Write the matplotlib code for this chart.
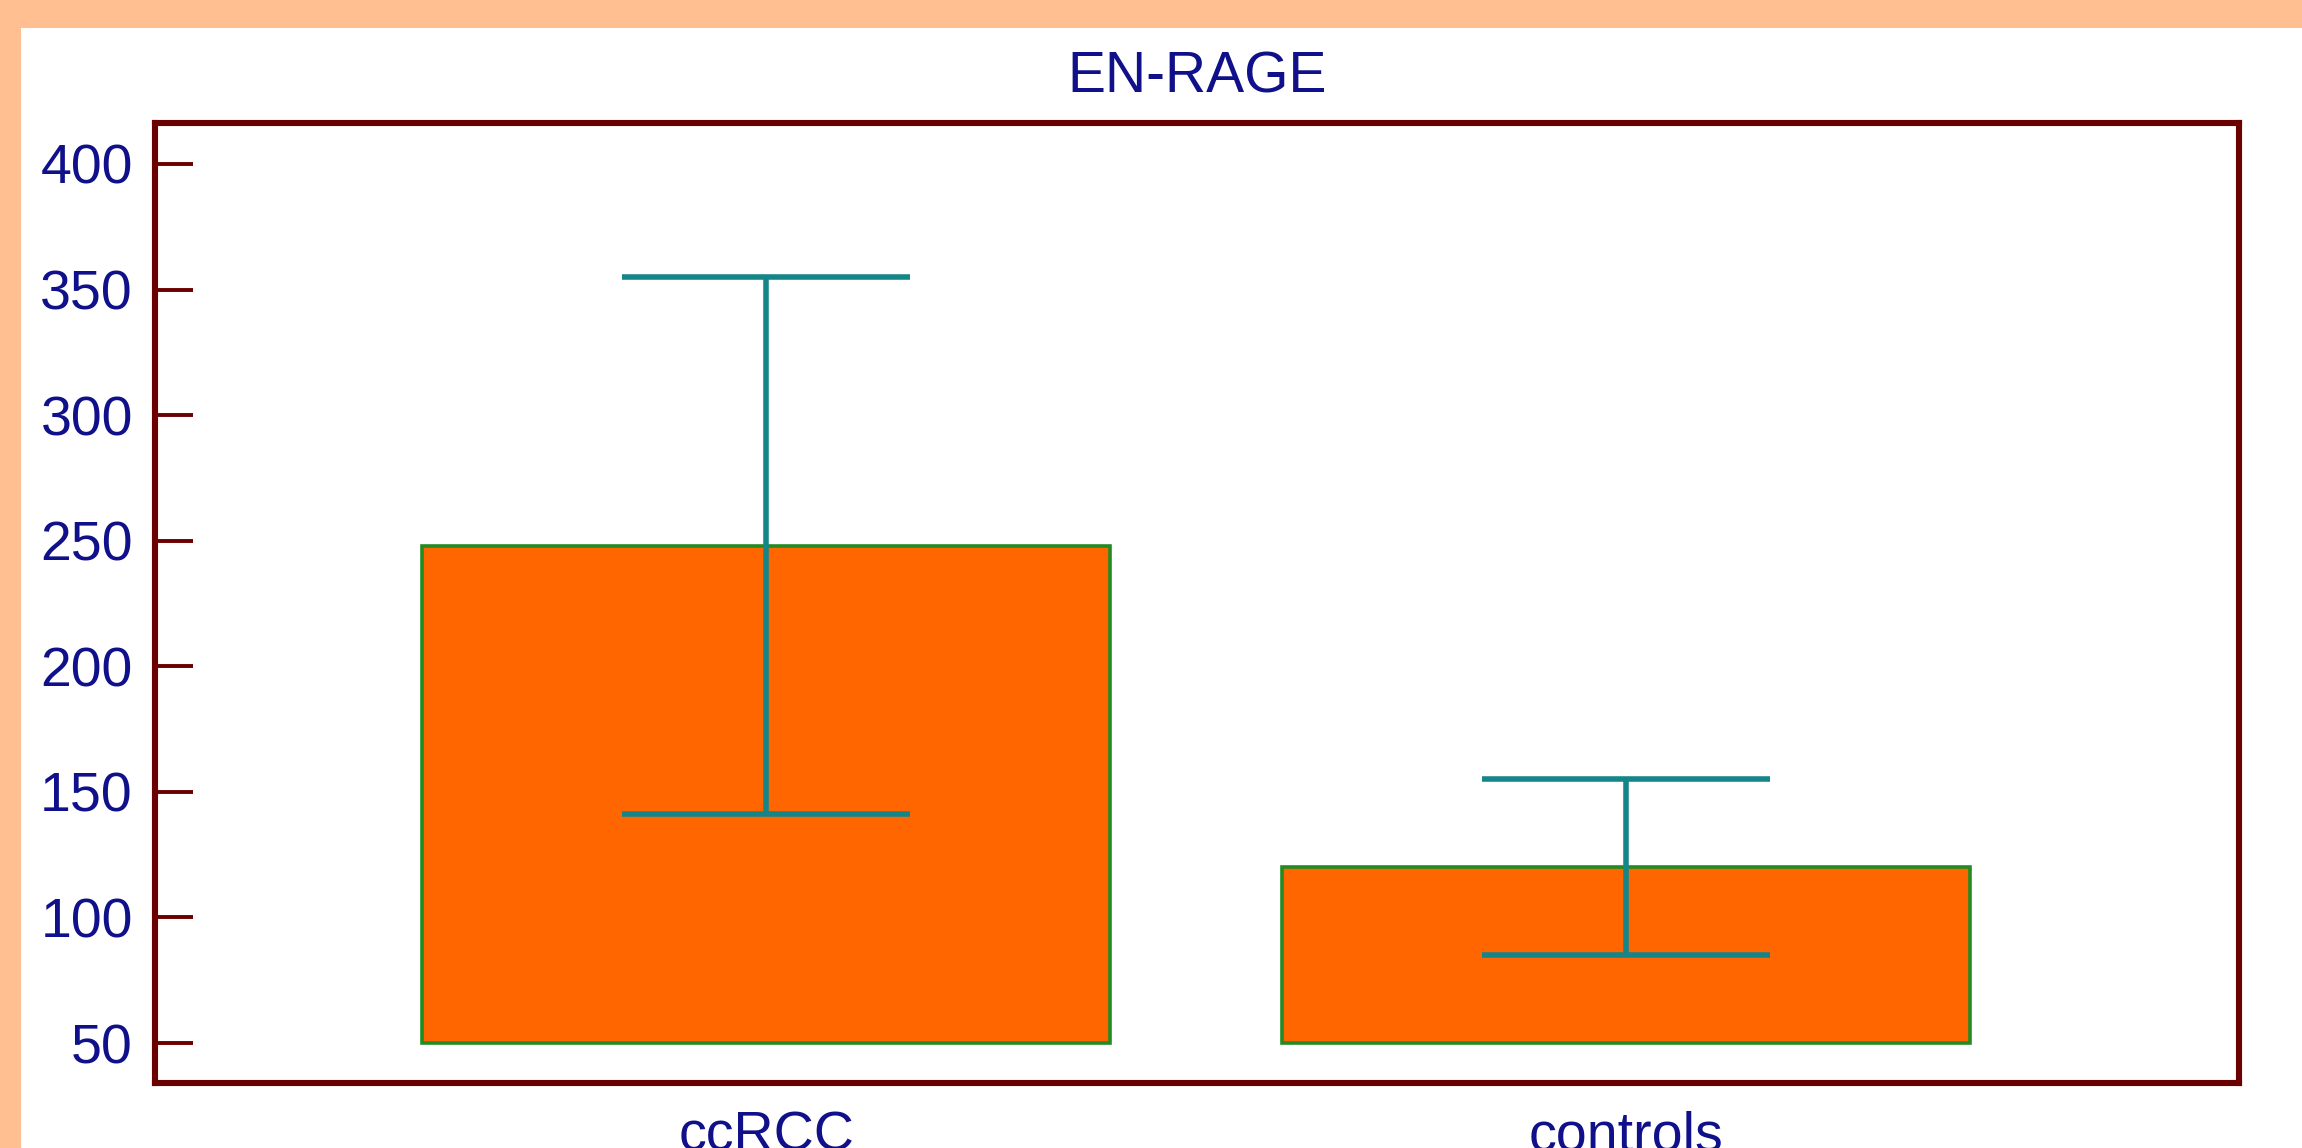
#!/usr/bin/env python3
# -*- coding: utf-8 -*-

"""
Bar chart of EN-RAGE levels with error bars (ccRCC vs controls).
"""

import matplotlib
matplotlib.use("Agg")
import matplotlib.pyplot as plt
from matplotlib.patches import Rectangle

# Data
groups = ["ccRCC", "controls"]
means = [248, 120]
errors = [107, 35]
baseline = 50
y_ticks = [50, 100, 150, 200, 250, 300, 350, 400]

# Colours
peach = "#FFBF91"
navy = "#10108A"
frame_red = "#6B0000"
bar_orange = "#FF6600"
bar_edge = "#228B22"
err_teal = "#14868A"

plt.rcParams["font.family"] = ["Liberation Sans", "DejaVu Sans"]

fig = plt.figure(figsize=(23.02, 11.48), dpi=100, facecolor="white")

# Peach border along the top and left edges
fig.patches.append(Rectangle((0, 1 - 28 / 1148), 1, 28 / 1148, transform=fig.transFigure,
                             facecolor=peach, edgecolor="none", zorder=0))
fig.patches.append(Rectangle((0, 0), 21 / 2302, 1, transform=fig.transFigure,
                             facecolor=peach, edgecolor="none", zorder=0))

ax = fig.add_axes([155 / 2302, 1 - 1083 / 1148, (2239 - 155) / 2302, (1083 - 123) / 1148])

x = range(len(groups))
heights = [m - baseline for m in means]
ax.bar(x, heights, bottom=baseline, width=0.8, color=bar_orange,
       edgecolor=bar_edge, linewidth=2.6, zorder=2)
ax.errorbar(x, means, yerr=errors, fmt="none", ecolor=err_teal,
            elinewidth=4.0, capsize=104, capthick=4.0, zorder=3)

ax.set_xlim(-0.711, 1.713)
ax.set_ylim(34.1, 416.3)
ax.set_yticks(y_ticks)
ax.set_xticks(list(x))
ax.set_xticklabels(groups)

for spine in ax.spines.values():
    spine.set_color(frame_red)
    spine.set_linewidth(4.4)

ax.tick_params(axis="y", direction="in", length=27, width=2.8, color=frame_red,
               labelcolor=navy, labelsize=40, pad=16)
ax.tick_params(axis="x", length=0, labelcolor=navy, labelsize=40, pad=20)

ax.set_title("EN-RAGE", color=navy, fontsize=41, pad=22)

fig.savefig("out.png", dpi=100, facecolor="white")
